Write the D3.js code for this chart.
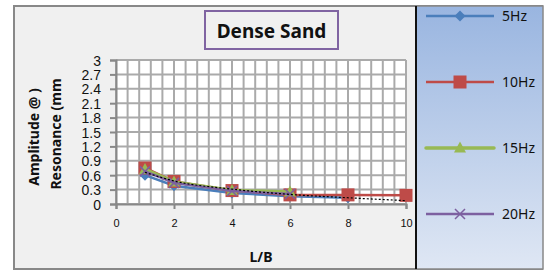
<!DOCTYPE html>
<html>
<head>
<meta charset="utf-8">
<script src="https://cdn.jsdelivr.net/npm/d3@7"></script>
<style>
  body { margin: 0; background: #fff; }
  svg { display: block; font-family: "Noto Sans", "Open Sans", sans-serif; }
</style>
</head>
<body>
<svg id="chart" width="545" height="271"></svg>
<script>
// values
var lb = [1, 2, 4, 6, 8, 10];
var hz5 = [0.60, 0.38, 0.23, 0.16, 0.13];
var hz10 = [0.75, 0.47, 0.28, 0.19, 0.19, 0.18];
var hz15 = [0.72, 0.46, 0.28, 0.25];
var hz20 = [0.68, 0.44, 0.27, 0.21];
var trend = [0.66, 0.48, 0.31, 0.20, 0.13, 0.07];
var seriesNames = ["5Hz", "10Hz", "15Hz", "20Hz"];
var yTicks = [0, 0.3, 0.6, 0.9, 1.2, 1.5, 1.8, 2.1, 2.4, 2.7, 3];
var xTicks = [0, 2, 4, 6, 8, 10];

var svg = d3.select("#chart");

var x = d3.scaleLinear().domain([0, 10]).range([116, 406]),
    y = d3.scaleLinear().domain([0, 3]).range([204, 60]);

// outer chart box
svg.append("rect")
    .attr("x", 14).attr("y", 6).attr("width", 528).attr("height", 263)
    .attr("fill", "#f0f0f0").attr("stroke", "#888").attr("stroke-width", 2);

// legend panel with gradient
var grad = svg.append("defs").append("linearGradient")
    .attr("id", "lg").attr("x1", 0).attr("y1", 0).attr("x2", 0).attr("y2", 1);
grad.append("stop").attr("offset", "0%").attr("stop-color", "#99b5e0");
grad.append("stop").attr("offset", "100%").attr("stop-color", "#dfe7f4");
svg.append("rect")
    .attr("x", 416).attr("y", 6).attr("width", 127).attr("height", 263)
    .attr("fill", "url(#lg)").attr("stroke", "#888").attr("stroke-width", 1.5);
svg.append("line")
    .attr("x1", 416).attr("x2", 416).attr("y1", 6).attr("y2", 269)
    .attr("stroke", "#111").attr("stroke-width", 2);

// plot area + grid
svg.append("rect")
    .attr("x", x(0)).attr("y", y(3))
    .attr("width", x(10) - x(0)).attr("height", y(0) - y(3))
    .attr("fill", "#fff");

var grid = svg.append("g");
grid.selectAll(".gv").data(d3.range(0, 26)).enter().append("line")
    .attr("x1", function(i) { return x(i * 0.4); })
    .attr("x2", function(i) { return x(i * 0.4); })
    .attr("y1", y(3)).attr("y2", y(0))
    .attr("stroke", "#aaa").attr("stroke-width", 2);
grid.selectAll(".gh").data(yTicks).enter().append("line")
    .attr("x1", x(0)).attr("x2", x(10))
    .attr("y1", function(d) { return y(d); })
    .attr("y2", function(d) { return y(d); })
    .attr("stroke", "#aaa").attr("stroke-width", 2);

// axes
var yAxis = svg.append("g")
    .attr("transform", "translate(" + x(0) + ",0)")
    .call(d3.axisLeft(y).tickValues(yTicks).tickSize(6).tickPadding(9)
      .tickFormat(function(d) { return d3.format(".1~f")(d); }));
yAxis.select(".domain").attr("stroke", "#888").attr("stroke-width", 2);
yAxis.selectAll(".tick line").attr("stroke", "#888").attr("stroke-width", 2);
yAxis.selectAll(".tick text")
    .attr("fill", "#111").style("font-size", "14px")
    .attr("dy", "0.36em");

var xAxis = svg.append("g")
    .attr("transform", "translate(0," + y(0) + ")")
    .call(d3.axisBottom(x).tickValues(xTicks).tickSize(5).tickPadding(10));
xAxis.select(".domain").attr("stroke", "#888").attr("stroke-width", 2);
xAxis.selectAll(".tick line").attr("stroke", "#888").attr("stroke-width", 2);
xAxis.selectAll(".tick text").attr("fill", "#111").style("font-size", "11px");

// axis titles
svg.append("text")
    .attr("x", 261).attr("y", 262).attr("text-anchor", "middle")
    .style("font-size", "14px").style("font-weight", "bold").attr("fill", "#111")
    .text("L/B");
svg.append("text")
    .attr("transform", "translate(39,137) rotate(-90)").attr("text-anchor", "middle")
    .style("font-size", "14px").style("font-weight", "bold").attr("fill", "#111")
    .text("Amplitude @ )");
svg.append("text")
    .attr("transform", "translate(61,134) rotate(-90)").attr("text-anchor", "middle")
    .style("font-size", "14px").style("font-weight", "bold").attr("fill", "#111")
    .text("Resonance (mm");

// title box
svg.append("rect")
    .attr("x", 205).attr("y", 11).attr("width", 133).attr("height", 38)
    .attr("fill", "#f0f0f0").attr("stroke", "#8064a2").attr("stroke-width", 2);
svg.append("text")
    .attr("x", 271.5).attr("y", 37.5).attr("text-anchor", "middle")
    .style("font-size", "19px").style("font-weight", "bold").attr("fill", "#111")
    .text("Dense Sand");

// series
var colors = ["#4a7ebb", "#be4b48", "#98b954", "#7d60a0"];
var values = [hz5, hz10, hz15, hz20];
var widths = [2.5, 2.5, 3.5, 2.5];

function marker(g, i, cx, cy) {
  var c = colors[i];
  if (i === 0) {
    g.append("path").attr("d", "M" + cx + "," + (cy - 5.5) + "L" + (cx + 5.5) + "," + cy +
        "L" + cx + "," + (cy + 5.5) + "L" + (cx - 5.5) + "," + cy + "Z").attr("fill", c);
  } else if (i === 1) {
    g.append("rect").attr("x", cx - 6.5).attr("y", cy - 6.5)
      .attr("width", 13).attr("height", 13).attr("fill", c);
  } else if (i === 2) {
    g.append("path").attr("d", "M" + cx + "," + (cy - 6.5) + "L" + (cx + 6) + "," + (cy + 4.5) +
        "L" + (cx - 6) + "," + (cy + 4.5) + "Z").attr("fill", c);
  } else {
    g.append("path").attr("d", "M" + (cx - 5) + "," + (cy - 5) + "L" + (cx + 5) + "," + (cy + 5) +
        "M" + (cx + 5) + "," + (cy - 5) + "L" + (cx - 5) + "," + (cy + 5))
      .attr("stroke", c).attr("stroke-width", 1.5).attr("fill", "none");
  }
}

var line = d3.line()
    .x(function(d) { return x(d[0]); })
    .y(function(d) { return y(d[1]); });

var plot = svg.append("g");
values.forEach(function(vals, i) {
  var pts = vals.map(function(v, k) { return [lb[k], v]; });
  var g = plot.append("g");
  g.append("path").datum(pts).attr("d", line)
    .attr("fill", "none").attr("stroke", colors[i]).attr("stroke-width", widths[i]);
  pts.forEach(function(p) { marker(g, i, x(p[0]), y(p[1])); });
});

// dotted trend line
plot.append("path")
    .datum(trend.map(function(v, k) { return [lb[k], v]; }))
    .attr("d", line.curve(d3.curveMonotoneX))
    .attr("fill", "none").attr("stroke", "#000").attr("stroke-width", 1.2)
    .attr("stroke-dasharray", "2,2");

// legend
var legY = [16, 82, 148, 214];
seriesNames.forEach(function(name, i) {
  var g = svg.append("g");
  g.append("line").attr("x1", 426).attr("x2", 494)
    .attr("y1", legY[i]).attr("y2", legY[i])
    .attr("stroke", colors[i]).attr("stroke-width", widths[i])
    .attr("stroke-linecap", i === 2 ? "round" : "butt");
  marker(g, i, 460, legY[i]);
  g.append("text").attr("x", 502).attr("y", legY[i]).attr("dy", "0.36em")
    .style("font-size", "14px").attr("fill", "#111").text(name);
});
</script>
</body>
</html>
